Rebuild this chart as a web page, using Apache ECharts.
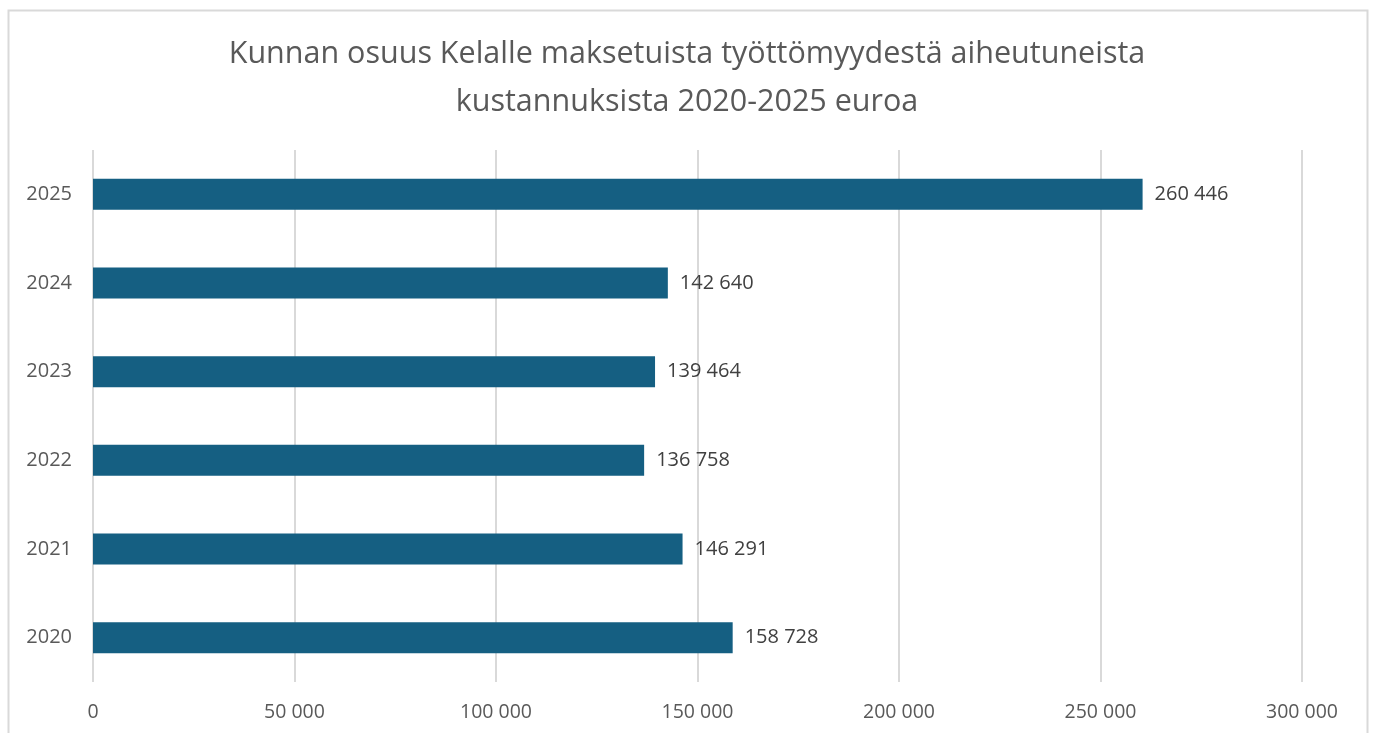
<!DOCTYPE html>
<html><head><meta charset="utf-8">
<script src="https://cdn.jsdelivr.net/npm/echarts@6/dist/echarts.min.js"></script>
<style>html,body{margin:0;padding:0;background:#fff}#c{width:1374px;height:733px}</style>
</head><body><div id="c"></div>
<script>
const titleText = 'Kunnan osuus Kelalle maksetuista työttömyydestä aiheutuneista\nkustannuksista 2020-2025 euroa';
const categories = ['2020', '2021', '2022', '2023', '2024', '2025'];
const values = [158728, 146291, 136758, 139464, 142640, 260446];
const axisMin = 0, axisMax = 300000, axisStep = 50000;

function fmt(v){ return String(Math.round(v)).replace(/\B(?=(\d{3})+(?!\d))/g, '\u00a0'); }

const chart = echarts.init(document.getElementById('c'), null, {renderer:'canvas'});
chart.setOption({
  backgroundColor:'#fff',
  animation:false,
  title:{
    text:titleText, left:'center', top:25,
    textStyle:{fontFamily:'Open Sans', fontSize:30.5, fontWeight:'normal', color:'#595959', lineHeight:48}
  },
  graphic:[{type:'rect', shape:{x:8.5,y:10.5,width:1359,height:740}, style:{fill:'none', stroke:'#d9d9d9', lineWidth:2}, silent:true}],
  grid:{left:93, right:72, top:150, bottom:51, containLabel:false},
  xAxis:{
    type:'value', min:axisMin, max:axisMax, interval:axisStep,
    axisLine:{show:false}, axisTick:{show:false},
    splitLine:{show:true, lineStyle:{color:'#d9d9d9', width:2}},
    axisLabel:{formatter:fmt, color:'#595959', fontFamily:'Open Sans', fontSize:19.5, margin:20}
  },
  yAxis:{
    type:'category', data:categories,
    axisLine:{show:false}, axisTick:{show:false},
    axisLabel:{color:'#595959', fontFamily:'Open Sans', fontSize:20, margin:21}
  },
  series:[{
    type:'bar', data:values, barWidth:31,
    itemStyle:{color:'#155f82'},
    label:{show:true, position:'right', distance:12, formatter:p=>fmt(p.value), color:'#404040', fontFamily:'Open Sans', fontSize:20}
  }]
});
</script></body></html>
